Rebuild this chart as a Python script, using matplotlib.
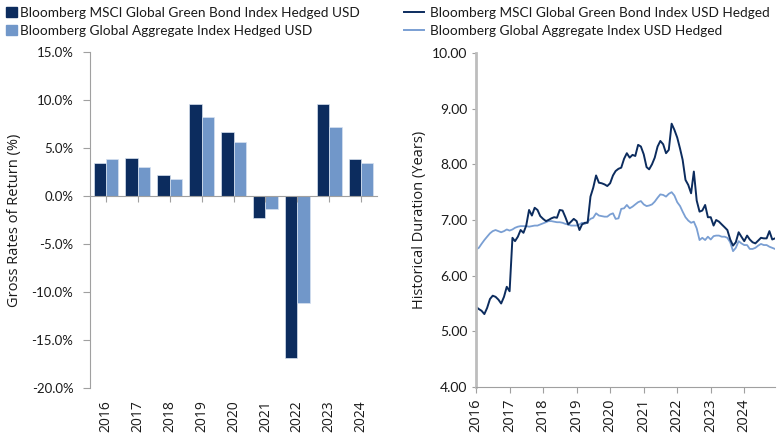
import numpy as np
import pandas as pd
import matplotlib
matplotlib.use('Agg')
import matplotlib.pyplot as plt
from matplotlib.lines import Line2D
from matplotlib.patches import Patch


###### Data
years = ['2016', '2017', '2018', '2019', '2020', '2021', '2022', '2023', '2024']
green_ret = [3.4, 4.0, 2.15, 9.6, 6.7, -2.25, -16.9, 9.55, 3.85]
agg_ret = [3.9, 3.0, 1.8, 8.2, 5.6, -1.4, -11.1, 7.15, 3.4]

# monthly historical duration, Jan 2016 - Dec 2024
green_dur = [
    5.44, 5.40, 5.37, 5.31, 5.42, 5.58, 5.64, 5.62, 5.57, 5.50, 5.62, 5.80,
    5.72, 6.68, 6.62, 6.70, 6.82, 6.77, 6.90, 7.18, 7.08, 7.22, 7.18, 7.07,
    7.02, 6.98, 7.00, 7.03, 7.05, 7.04, 7.18, 7.17, 7.05, 6.92, 6.97, 7.02,
    6.98, 6.82, 6.92, 6.95, 6.95, 7.42, 7.58, 7.80, 7.67, 7.66, 7.64, 7.61,
    7.66, 7.80, 7.88, 7.92, 7.94, 8.10, 8.20, 8.12, 8.17, 8.15, 8.35, 8.32,
    8.18, 7.95, 7.91, 8.00, 8.12, 8.32, 8.42, 8.36, 8.20, 8.26, 8.73, 8.62,
    8.48, 8.28, 8.08, 7.72, 7.63, 7.48, 7.87, 7.35, 7.15, 7.17, 7.27, 7.05,
    7.05, 6.90, 7.00, 6.97, 6.92, 6.87, 6.82, 6.65, 6.54, 6.60, 6.78, 6.70,
    6.62, 6.72, 6.65, 6.60, 6.58, 6.63, 6.68, 6.67, 6.67, 6.80, 6.65, 6.67,
]
agg_dur = [
    6.47, 6.50, 6.57, 6.64, 6.70, 6.76, 6.80, 6.82, 6.80, 6.78, 6.80, 6.83,
    6.81, 6.83, 6.86, 6.88, 6.89, 6.89, 6.89, 6.88, 6.89, 6.90, 6.90, 6.92,
    6.94, 6.96, 6.98, 6.98, 6.97, 6.96, 6.96, 6.95, 6.93, 6.92, 6.90, 6.90,
    6.90, 6.92, 6.95, 6.93, 6.97, 7.02, 7.04, 7.12, 7.08, 7.07, 7.06, 7.06,
    7.10, 7.12, 7.02, 7.03, 7.20, 7.21, 7.27, 7.21, 7.24, 7.28, 7.32, 7.34,
    7.28, 7.25, 7.26, 7.28, 7.33, 7.40, 7.46, 7.45, 7.42, 7.47, 7.50, 7.44,
    7.32, 7.25, 7.15, 7.05, 6.99, 6.95, 6.97, 6.85, 6.64, 6.68, 6.64, 6.70,
    6.65, 6.71, 6.72, 6.72, 6.70, 6.70, 6.68, 6.60, 6.44, 6.50, 6.62, 6.58,
    6.55, 6.55, 6.48, 6.48, 6.50, 6.54, 6.57, 6.55, 6.55, 6.52, 6.50, 6.48,
]
months = pd.date_range('2016-01-01', periods=len(green_dur), freq='MS')

green_label_bar = 'Bloomberg MSCI Global Green Bond Index Hedged USD'
agg_label_bar = 'Bloomberg Global Aggregate Index Hedged USD'
green_label_line = 'Bloomberg MSCI Global Green Bond Index USD Hedged'
agg_label_line = 'Bloomberg Global Aggregate Index USD Hedged'

dark = '#0c2c5e'
light = '#7197c9'
light_line = '#7a9fd3'
grey = '#a0a0a0'
txt = '#1a1a1a'


###### Figure
fig = plt.figure(figsize=(7.8, 4.4), dpi=100)
ax1 = fig.add_axes([90/780, 52/440, 287/780, 336/440])
ax2 = fig.add_axes([476/780, 53/440, 299/780, 334/440])


# Left: annual returns
x = np.arange(len(years))
w = 0.39
ax1.bar(x - w/2, green_ret, w, color=dark, edgecolor='#d7e2f0', linewidth=0.5)
ax1.bar(x + w/2, agg_ret, w, color=light, edgecolor='#d7e2f0', linewidth=0.5)
ax1.set_xlim(-0.5, len(years) - 0.5)
ax1.set_ylim(-20, 15)
ax1.set_yticks(np.arange(-20, 16, 5))
ax1.set_yticklabels([f'{v:.1f}%' for v in np.arange(-20, 16, 5)],
                    fontfamily='Lato', fontsize=9.5, color=txt)
ax1.set_ylabel('Gross Rates of Return (%)', fontfamily='Open Sans',
               fontsize=10.5, color=txt, labelpad=7)

for s in ['top', 'right']:
    ax1.spines[s].set_visible(False)
ax1.spines['left'].set_color(grey)
ax1.spines['bottom'].set_color(grey)
ax1.spines['bottom'].set_position(('data', 0))
ax1.tick_params(axis='y', colors=grey, length=5, pad=7, labelcolor=txt)
ax1.set_xticks(x)
ax1.tick_params(axis='x', colors=grey, length=4, labelbottom=False)

sec = ax1.secondary_xaxis('bottom')
sec.set_xticks(x)
sec.set_xticklabels(years, rotation=90, fontfamily='Open Sans', fontsize=10, color=txt)
sec.tick_params(length=0, pad=9)
sec.spines['bottom'].set_visible(False)

handles1 = [Patch(color=dark), Patch(color=light)]
fig.legend(handles1, [green_label_bar, agg_label_bar], loc='upper left',
           bbox_to_anchor=(6/780, 1 - 7/440), frameon=False, borderpad=0,
           borderaxespad=0, handlelength=0.8, handleheight=0.8,
           handletextpad=0.2, labelspacing=0.42,
           prop={'family': 'Lato', 'size': 9.8}, labelcolor=txt)


# Right: historical duration
ax2.plot(months, agg_dur, color=light_line, linewidth=1.3)
ax2.plot(months, green_dur, color=dark, linewidth=1.4)
ax2.set_xlim(months[0], months[-1])
ax2.set_ylim(4, 10)
ax2.set_yticks(np.arange(4, 10.5, 1))
ax2.set_yticklabels([f'{v:.2f}' for v in np.arange(4, 10.5, 1)],
                    fontfamily='Lato', fontsize=10, color=txt)
ax2.set_ylabel('Historical Duration (Years)', fontfamily='Open Sans',
               fontsize=10.5, color=txt, labelpad=4)
year_ticks = pd.date_range('2016-01-01', '2024-01-01', freq='YS')
ax2.set_xticks(year_ticks)
ax2.set_xticklabels([str(d.year) for d in year_ticks], rotation=90,
                    fontfamily='Open Sans', fontsize=10.5, color=txt)

for s in ['top', 'right']:
    ax2.spines[s].set_visible(False)
ax2.spines['left'].set_color('#bdbdbd')
ax2.spines['left'].set_linewidth(2)
ax2.spines['bottom'].set_color(grey)
ax2.tick_params(axis='y', colors=grey, length=3, pad=3, labelcolor=txt)
ax2.tick_params(axis='x', colors=grey, length=4, pad=4, labelcolor=txt)

handles2 = [Line2D([], [], color=dark, linewidth=1.4),
            Line2D([], [], color=light_line, linewidth=1.4)]
fig.legend(handles2, [green_label_line, agg_label_line], loc='upper left',
           bbox_to_anchor=(404/780, 1 - 7/440), frameon=False, borderpad=0,
           borderaxespad=0, handlelength=1.47, handletextpad=0.44,
           labelspacing=0.42,
           prop={'family': 'Lato', 'size': 9.8}, labelcolor=txt)

fig.savefig('out.png', dpi=100)
